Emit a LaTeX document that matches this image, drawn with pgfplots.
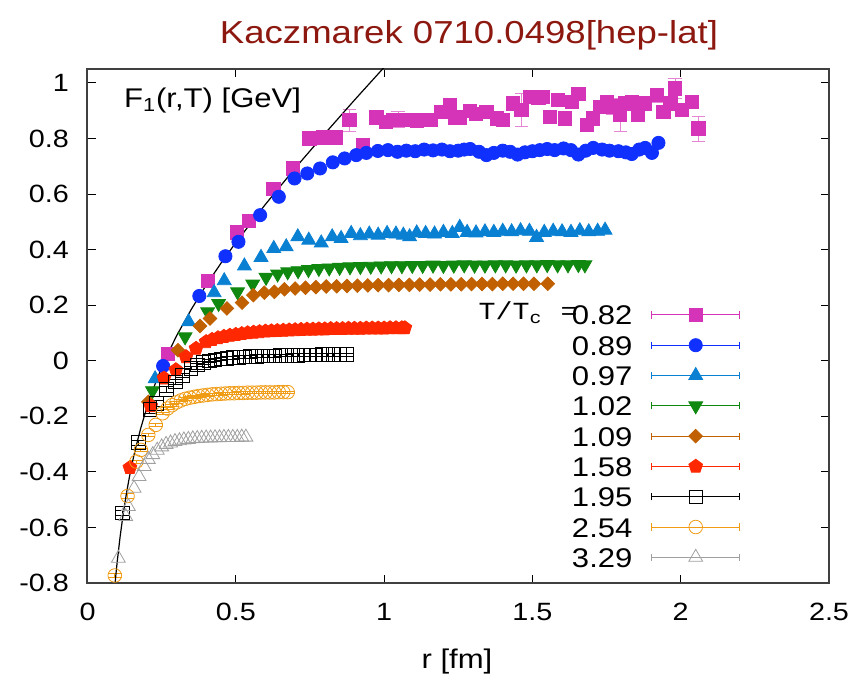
\documentclass[border=0pt]{standalone}
\usepackage{fontspec}
\setmainfont{Liberation Sans}[FakeStretch=1.15]
\setmonofont{Liberation Mono}[FakeStretch=1.15]
\usepackage{pgfplots}
\pgfplotsset{compat=1.18}

\definecolor{cA}{RGB}{214,52,184}
\definecolor{cB}{RGB}{16,48,255}
\definecolor{cC}{RGB}{10,128,210}
\definecolor{cD}{RGB}{16,136,16}
\definecolor{cE}{RGB}{192,96,0}
\definecolor{cF}{RGB}{255,40,0}
\definecolor{cH}{RGB}{240,155,20}
\definecolor{cI}{RGB}{160,160,160}
\definecolor{titlered}{RGB}{140,24,16}

\begin{document}
\begin{tikzpicture}
\useasboundingbox (-43.75pt,-45.5pt) rectangle (384.25pt,291.5pt);
\begin{axis}[
    scale only axis, width=370.75pt, height=257pt,
    at={(0,0)}, anchor=south west,
    xmin=0, xmax=2.5, ymin=-0.8, ymax=1.05,
    xtick={0,0.5,1,1.5,2,2.5},
    ytick={-0.8,-0.6,-0.4,-0.2,0,0.2,0.4,0.6,0.8,1},
    /pgf/number format/assume math mode=true,
    ticklabel style={font=\fontsize{12.5}{14}\selectfont},
    yticklabel style={xshift=-5.8pt},
    xticklabel style={yshift=-6.5pt},
    axis line style={draw=black!75, line width=1pt},
    tick style={black, line width=0.5pt},
    major tick length=4pt,
    legend cell align=right,
    legend plot pos=right,
    legend style={draw=none, fill=none, inner sep=0pt, outer sep=0pt,
        column sep=9.5pt, row sep=5.15pt,
        at={(axis description cs:0.880,0.541)}, anchor=north east,
        font=\fontsize{13.5}{15}\selectfont,
        nodes={inner sep=0pt, text height=10pt, text depth=0pt}},
    legend image code/.code={
        \draw[#1, mark=none, solid, line width=0.5pt]
            (0pt,0pt) -- (43.8pt,0pt)
            (0pt,-1.8pt) -- (0pt,1.8pt)
            (43.8pt,-1.8pt) -- (43.8pt,1.8pt);
        \draw[#1, only marks] plot coordinates {(21.9pt,0pt)};
    },
]

% T/Tc = 0.82
\addplot[only marks, color=cA, mark=square*, mark size=3.3pt,
    error bars/.cd, y dir=both, y explicit,
    error bar style={color=cA!60, line width=0.5pt}]
coordinates {
(0.272,0.024) +- (0,0.005)
(0.405,0.286) +- (0,0.008)
(0.504,0.462) +- (0,0.010)
(0.543,0.504) +- (0,0.010)
(0.627,0.617) +- (0,0.012)
(0.692,0.692) +- (0,0.012)
(0.748,0.800) +- (0,0.012)
(0.793,0.804) +- (0,0.012)
(0.838,0.804) +- (0,0.012)
(0.883,0.866) +- (0,0.040)
(0.928,0.776) +- (0,0.020)
(0.974,0.876) +- (0,0.015)
(1.007,0.860) +- (0,0.015)
(1.030,0.866) +- (0,0.015)
(1.047,0.868) +- (0,0.030)
(1.070,0.866) +- (0,0.015)
(1.092,0.868) +- (0,0.015)
(1.110,0.862) +- (0,0.015)
(1.131,0.866) +- (0,0.020)
(1.159,0.866) +- (0,0.015)
(1.193,0.896) +- (0,0.015)
(1.221,0.920) +- (0,0.015)
(1.240,0.876) +- (0,0.020)
(1.255,0.876) +- (0,0.020)
(1.289,0.900) +- (0,0.020)
(1.310,0.888) +- (0,0.020)
(1.345,0.896) +- (0,0.020)
(1.379,0.872) +- (0,0.020)
(1.401,0.868) +- (0,0.020)
(1.435,0.926) +- (0,0.020)
(1.463,0.902) +- (0,0.060)
(1.492,0.950) +- (0,0.020)
(1.520,0.947) +- (0,0.020)
(1.536,0.950) +- (0,0.020)
(1.559,0.878) +- (0,0.020)
(1.587,0.938) +- (0,0.020)
(1.610,0.872) +- (0,0.020)
(1.632,0.932) +- (0,0.020)
(1.655,0.959) +- (0,0.020)
(1.683,0.848) +- (0,0.020)
(1.705,0.872) +- (0,0.020)
(1.728,0.914) +- (0,0.020)
(1.751,0.932) +- (0,0.020)
(1.770,0.915) +- (0,0.030)
(1.796,0.884) +- (0,0.060)
(1.813,0.926) +- (0,0.020)
(1.835,0.932) +- (0,0.020)
(1.857,0.884) +- (0,0.020)
(1.880,0.926) +- (0,0.020)
(1.920,0.956) +- (0,0.025)
(1.942,0.896) +- (0,0.020)
(1.965,0.926) +- (0,0.020)
(1.981,0.980) +- (0,0.036)
(2.004,0.902) +- (0,0.020)
(2.038,0.932) +- (0,0.020)
(2.060,0.836) +- (0,0.045)
};
\addlegendentry{0.82}

% T/Tc = 0.89
\addplot[only marks, color=cB, mark=*, mark size=3.3pt]
coordinates {
(0.255,-0.019) (0.377,0.233) (0.465,0.376) (0.509,0.428) (0.582,0.524)
(0.645,0.590) (0.698,0.656) (0.741,0.674) (0.784,0.692) (0.827,0.714)
(0.867,0.728) (0.906,0.740) (0.940,0.748) (0.979,0.755) (1.013,0.758)
(1.045,0.752) (1.075,0.756) (1.105,0.754) (1.135,0.760) (1.165,0.757)
(1.195,0.760) (1.222,0.754) (1.250,0.756) (1.270,0.760) (1.290,0.762)
(1.320,0.752) (1.345,0.740) (1.370,0.748) (1.400,0.756) (1.425,0.752)
(1.450,0.742) (1.475,0.750) (1.500,0.754) (1.525,0.758) (1.550,0.762)
(1.575,0.758) (1.605,0.764) (1.630,0.758) (1.655,0.742) (1.680,0.756)
(1.705,0.766) (1.735,0.760) (1.760,0.756) (1.790,0.754) (1.815,0.750)
(1.835,0.744) (1.860,0.760) (1.880,0.766) (1.903,0.748) (1.925,0.784)
};
\addlegendentry{0.89}

% T/Tc = 0.97
\addplot[only marks, color=cC, mark=triangle*, mark size=4pt]
coordinates {
(0.228,-0.065) (0.341,0.140) (0.427,0.245) (0.461,0.288) (0.529,0.341)
(0.585,0.372) (0.628,0.404) (0.670,0.410) (0.709,0.446) (0.746,0.434)
(0.788,0.424) (0.825,0.446) (0.855,0.440) (0.889,0.458) (0.920,0.450)
(0.950,0.456) (0.980,0.452) (1.010,0.458) (1.040,0.456) (1.065,0.452)
(1.086,0.446) (1.110,0.460) (1.140,0.458) (1.170,0.456) (1.200,0.462)
(1.230,0.458) (1.255,0.480) (1.280,0.462) (1.310,0.460) (1.340,0.464)
(1.370,0.462) (1.400,0.466) (1.430,0.464) (1.460,0.468) (1.490,0.466)
(1.514,0.444) (1.540,0.462) (1.570,0.466) (1.600,0.464) (1.630,0.462)
(1.660,0.468) (1.690,0.464) (1.720,0.466) (1.745,0.470)
};
\addlegendentry{0.97}

% T/Tc = 1.02
\addplot[only marks, color=cD, mark=triangle*, mark size=4pt, mark options={rotate=180}]
coordinates {
(0.219,-0.108) (0.329,0.086) (0.405,0.176) (0.442,0.206) (0.506,0.248)
(0.557,0.276) (0.602,0.300) (0.641,0.312) (0.675,0.320) (0.710,0.324)
(0.745,0.328) (0.780,0.332) (0.815,0.334) (0.850,0.336) (0.885,0.338)
(0.920,0.339) (0.955,0.340) (0.990,0.341) (1.025,0.342) (1.060,0.342)
(1.095,0.343) (1.130,0.343) (1.165,0.344) (1.200,0.343) (1.235,0.344)
(1.270,0.345) (1.305,0.344) (1.340,0.344) (1.375,0.345) (1.410,0.345)
(1.445,0.344) (1.480,0.345) (1.515,0.345) (1.550,0.346) (1.585,0.345)
(1.620,0.345) (1.655,0.346) (1.677,0.345)
};
\addlegendentry{1.02}

% T/Tc = 1.09
\addplot[only marks, color=cE, mark=square*, mark size=2.4pt, mark options={rotate=45}]
coordinates {
(0.205,-0.148) (0.305,0.038) (0.379,0.125) (0.413,0.152) (0.470,0.188)
(0.521,0.209) (0.559,0.236) (0.596,0.245) (0.630,0.248) (0.664,0.257)
(0.700,0.260) (0.735,0.263) (0.770,0.265) (0.805,0.267) (0.840,0.268)
(0.875,0.269) (0.910,0.270) (0.945,0.271) (0.980,0.272) (1.015,0.272)
(1.050,0.273) (1.085,0.273) (1.120,0.274) (1.155,0.274) (1.190,0.275)
(1.225,0.275) (1.260,0.275) (1.295,0.276) (1.330,0.276) (1.365,0.276)
(1.400,0.277) (1.435,0.277) (1.470,0.277) (1.505,0.277) (1.552,0.277)
};
\addlegendentry{1.09}

% T/Tc = 1.58
\addplot[only marks, color=cF, mark=pentagon*, mark size=3.6pt]
coordinates {
(0.143,-0.385) (0.213,-0.163) (0.258,-0.063) (0.298,-0.033) (0.332,0.014)
(0.366,0.044) (0.400,0.068) (0.420,0.076) (0.440,0.082) (0.460,0.087)
(0.480,0.091) (0.500,0.094) (0.520,0.097) (0.540,0.100) (0.560,0.102)
(0.580,0.104) (0.600,0.106) (0.620,0.107) (0.640,0.108) (0.660,0.109)
(0.680,0.110) (0.700,0.111) (0.720,0.112) (0.740,0.113) (0.760,0.113)
(0.780,0.114) (0.800,0.114) (0.820,0.115) (0.840,0.115) (0.860,0.115)
(0.880,0.116) (0.900,0.116) (0.920,0.116) (0.940,0.117) (0.960,0.117)
(0.980,0.117) (1.000,0.117) (1.020,0.118) (1.040,0.118) (1.060,0.118)
(1.070,0.118)
};
\addlegendentry{1.58}

% T/Tc = 1.95
\addplot[only marks, color=black, mark=square, mark size=3.4pt,
    error bars/.cd, y dir=both, y explicit,
    error bar style={color=black, line width=0.5pt}]
coordinates {
(0.118,-0.547) +- (0,0.010)
(0.172,-0.295) +- (0,0.010)
(0.210,-0.175) +- (0,0.015)
(0.232,-0.153) +- (0,0.010)
(0.266,-0.103) +- (0,0.010)
(0.296,-0.076) +- (0,0.008)
(0.320,-0.052) +- (0,0.008)
(0.349,-0.027) +- (0,0.006)
(0.371,-0.015) +- (0,0.006)
(0.390,-0.007) +- (0,0.005)
(0.410,-0.001) +- (0,0.005)
(0.430,0.003) +- (0,0.005)
(0.450,0.006) +- (0,0.005)
(0.470,0.009) +- (0,0.005)
(0.490,0.011) +- (0,0.005)
(0.510,0.013) +- (0,0.005)
(0.530,0.014) +- (0,0.005)
(0.550,0.015) +- (0,0.005)
(0.570,0.016) +- (0,0.005)
(0.590,0.017) +- (0,0.005)
(0.610,0.018) +- (0,0.005)
(0.630,0.018) +- (0,0.005)
(0.650,0.019) +- (0,0.005)
(0.670,0.019) +- (0,0.005)
(0.690,0.020) +- (0,0.005)
(0.710,0.020) +- (0,0.005)
(0.730,0.021) +- (0,0.005)
(0.750,0.021) +- (0,0.005)
(0.770,0.021) +- (0,0.005)
(0.790,0.022) +- (0,0.005)
(0.810,0.022) +- (0,0.005)
(0.830,0.022) +- (0,0.005)
(0.850,0.022) +- (0,0.005)
(0.872,0.022) +- (0,0.005)
};
\addlegendentry{1.95}

% T/Tc = 2.54
\addplot[only marks, color=cH, mark=o, mark size=3.4pt,
    error bars/.cd, y dir=both, y explicit,
    error bar style={color=cH, line width=0.5pt}]
coordinates {
(0.092,-0.773) +- (0,0.008)
(0.135,-0.487) +- (0,0.008)
(0.165,-0.363) +- (0,0.006)
(0.180,-0.321) +- (0,0.006)
(0.205,-0.267) +- (0,0.005)
(0.230,-0.231) +- (0,0.005)
(0.253,-0.189) +- (0,0.004)
(0.270,-0.172) +- (0,0.004)
(0.285,-0.160) +- (0,0.004)
(0.300,-0.150) +- (0,0.004)
(0.315,-0.143) +- (0,0.004)
(0.330,-0.137) +- (0,0.004)
(0.345,-0.133) +- (0,0.004)
(0.360,-0.130) +- (0,0.004)
(0.375,-0.127) +- (0,0.004)
(0.390,-0.125) +- (0,0.004)
(0.405,-0.123) +- (0,0.004)
(0.420,-0.121) +- (0,0.004)
(0.435,-0.120) +- (0,0.004)
(0.450,-0.119) +- (0,0.004)
(0.465,-0.118) +- (0,0.004)
(0.480,-0.117) +- (0,0.004)
(0.495,-0.117) +- (0,0.004)
(0.510,-0.116) +- (0,0.004)
(0.525,-0.116) +- (0,0.004)
(0.540,-0.115) +- (0,0.004)
(0.555,-0.115) +- (0,0.004)
(0.570,-0.115) +- (0,0.004)
(0.585,-0.114) +- (0,0.004)
(0.600,-0.114) +- (0,0.004)
(0.615,-0.114) +- (0,0.004)
(0.630,-0.114) +- (0,0.004)
(0.645,-0.113) +- (0,0.004)
(0.660,-0.113) +- (0,0.004)
(0.675,-0.113) +- (0,0.004)
};
\addlegendentry{2.54}

% T/Tc = 3.29
\addplot[only marks, color=cI, mark=triangle, mark size=4pt]
coordinates {
(0.104,-0.711) (0.129,-0.561) (0.138,-0.525) (0.157,-0.459) (0.174,-0.417)
(0.191,-0.381) (0.205,-0.355) (0.220,-0.338) (0.235,-0.322) (0.250,-0.310)
(0.265,-0.301) (0.280,-0.296) (0.295,-0.291) (0.310,-0.288) (0.325,-0.285)
(0.340,-0.283) (0.355,-0.281) (0.370,-0.280) (0.385,-0.279) (0.400,-0.278)
(0.415,-0.278) (0.430,-0.277) (0.445,-0.277) (0.460,-0.276) (0.475,-0.276)
(0.490,-0.276) (0.505,-0.276) (0.520,-0.275) (0.534,-0.275)
};
\addlegendentry{3.29}

% Cornell-type fit curve
\addplot[black, line width=0.6pt, mark=none, forget plot]
coordinates {
(0.090,-0.836) (0.095,-0.778) (0.100,-0.725) (0.110,-0.633) (0.120,-0.554)
(0.130,-0.486) (0.140,-0.426) (0.150,-0.372) (0.160,-0.324) (0.180,-0.241)
(0.200,-0.169) (0.225,-0.092) (0.250,-0.025) (0.275,0.034) (0.300,0.089)
(0.350,0.185) (0.400,0.272) (0.450,0.351) (0.500,0.425) (0.600,0.563)
(0.700,0.693) (0.800,0.817) (0.900,0.938) (1.000,1.056) (1.050,1.114)
};

\node[anchor=base west, font=\fontsize{13.5}{15}\selectfont]
    at (axis description cs:0.0398,0.926) {F\textsubscript{1}(r,T) [GeV]};
\node[anchor=base west, inner sep=0pt, font=\ttfamily\fontsize{12.3}{14}\selectfont]
    at (axis description cs:0.5270,0.5117) {T/T\textsubscript{c}\hspace{0.6pt} =};
\end{axis}
\node[anchor=base, font=\fontsize{15.9}{18}\selectfont, text=titlered]
    at (190.75pt,269.85pt) {Kaczmarek 0710.0498[hep-lat]};
\node[anchor=base, font=\fontsize{13.5}{15}\selectfont]
    at (184.75pt,-42.5pt) {r [fm]};
\end{tikzpicture}
\end{document}
